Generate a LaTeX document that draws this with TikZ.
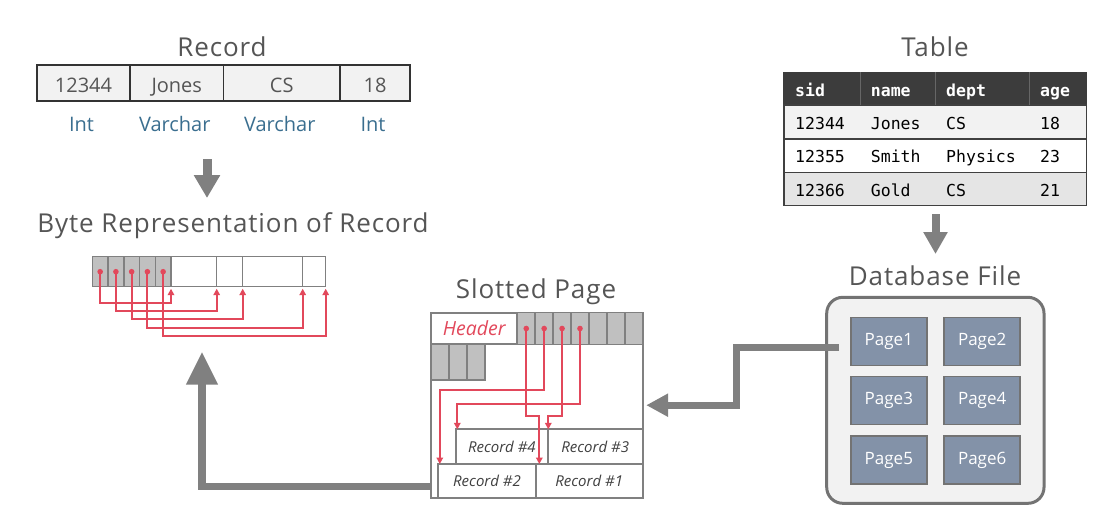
\documentclass[tikz,border=0pt]{standalone}
\usepackage{fontspec}
\setmainfont{Open Sans}
\newfontfamily\titlefont{Open Sans}[LetterSpace=3.5]
\newfontfamily\tabfont{DejaVu Sans Mono}
\usetikzlibrary{arrows.meta}

\definecolor{titlegray}{RGB}{85,85,85}
\definecolor{arrowgray}{RGB}{128,128,128}
\definecolor{slotgray}{RGB}{192,192,192}
\definecolor{ptrred}{RGB}{226,72,91}
\definecolor{typeblue}{RGB}{58,110,143}
\definecolor{pageblue}{RGB}{131,146,168}
\definecolor{lightfill}{RGB}{242,242,242}
\definecolor{headdark}{RGB}{60,60,60}

\begin{document}
\begin{tikzpicture}
        [x=1pt,y=-1pt,
         title/.style={text=titlegray,font=\titlefont\fontsize{26}{30}\selectfont},
         reccell/.style={draw=black!80,fill=lightfill,line width=1.2pt,minimum height=36pt,
                         inner sep=0pt,outer sep=0pt,text=titlegray,text height=22pt,text depth=2.8pt,
                         font=\fontsize{20}{24}\selectfont},
         typelabel/.style={text=typeblue,font=\fontsize{20}{24}\selectfont},
         bytecell/.style={draw=arrowgray,line width=1.5pt,minimum height=30pt,inner sep=0pt,outer sep=0pt},
         ptr/.style={draw=ptrred,line width=1.9pt,-{Triangle[length=6.5pt,width=6.5pt]}},
         bigarrow/.style={draw=arrowgray,line width=8pt,-{Triangle[length=23pt,width=25pt]}},
         spbox/.style={draw=arrowgray,line width=1.8pt,fill=white,inner sep=0pt,outer sep=0pt},
         slot/.style={draw=arrowgray,line width=1.5pt,fill=slotgray,inner sep=0pt,outer sep=0pt},
         recbox/.style={spbox,text=black!75,font=\itshape\fontsize{15}{18}\selectfont},
         dbbox/.style={draw=black!55,line width=3pt,fill=lightfill,rounded corners=16pt,
                       minimum width=217.3pt,minimum height=206pt},
         page/.style={draw=black!55,line width=1.5pt,fill=pageblue,text=white,minimum width=76pt,
                      minimum height=48pt,font=\fontsize{17}{20}\selectfont},
         tabrow/.style={draw=black!75,line width=1.2pt,minimum width=302.7pt,inner sep=0pt,outer sep=0pt},
         tabtext/.style={anchor=west,inner sep=0pt,text height=1.5ex,text depth=.25ex,
                         font=\tabfont\fontsize{16.5}{19}\selectfont}]
        \useasboundingbox (0,0) rectangle (1107,520);

        % record
        \node[title] (rectitle) at (222,47) {Record};
        \foreach \n/\x/\w/\t/\ty in {id/83.5/93/12344/Int, nm/176.75/93.5/Jones/Varchar,
                                    dp/281.75/116.5/CS/Varchar, ag/375/70/18/Int} {
            \node[reccell,minimum width=\w pt] (rec\n) at (\x,83) {\t};
            \node[typelabel] (type\n) at (\x-2,124) {\ty};
        }
        \coordinate (recdown) at (207,159);
        \draw[bigarrow,line width=9pt] (recdown) -- ++(0,39);

        % byte representation
        \node[title] (bytetitle) at (233,226) {Byte Representation of Record};
        \foreach \i in {0,...,4}
            \node[bytecell,fill=slotgray,minimum width=15.74pt] (b\i) at ({100.17+15.74*\i},271.7) {};
        \foreach \i/\x/\w in {0/193.85/45.7, 1/229.7/26, 2/272.7/60, 3/314.2/23}
            \node[bytecell,minimum width=\w pt] (w\i) at (\x,271.7) {};
        \foreach \i/\t/\d in {0/w0.south west/31, 1/w1.south west/39.3, 2/w2.south west/47.6,
                              3/w3.south west/56, 4/w3.south east/64.3} {
            \fill[ptrred] (b\i.center) circle (2.8pt);
            \draw[ptr] (b\i.center) -- ++(0,\d) -| ([yshift=-2pt]\t);
        }

        % slotted page
        \node[title] (sptitle) at (536,292) {Slotted Page};
        \node[spbox,minimum width=211.7pt,minimum height=185pt] (sp) at (536.85,405.2) {};
        \node[spbox,minimum width=86.3pt,minimum height=31.6pt,text=ptrred,
              font=\itshape\fontsize{19.5}{22}\selectfont] (hdr) at (474.15,328.5) {Header};
        \foreach \i in {0,...,6}
            \node[slot,minimum width=17.91pt,minimum height=31.6pt] (s\i) at ({526.25+17.91*\i},328.5) {};
        \foreach \i in {0,1,2}
            \node[slot,minimum width=18pt,minimum height=35.7pt] (t\i) at ({440+18*\i},362.15) {};
        \node[recbox,minimum width=97.4pt,minimum height=33.7pt] (r2) at (487,480.85) {Record \#2};
        \node[recbox,minimum width=107pt,minimum height=33.7pt] (r1) at (589.2,480.85) {Record \#1};
        \node[recbox,minimum width=91.7pt,minimum height=34.7pt] (r4) at (501.85,446.65) {Record \#4};
        \node[recbox,minimum width=95pt,minimum height=34.7pt] (r3) at (595.2,446.65) {Record \#3};
        \foreach \i/\d/\s/\t in {0/87.5/3.6/r1.north west, 1/61.5/1.5/r2.north west,
                                 2/87.5/0.6/r3.north west, 3/75.5/1.3/r4.north west} {
            \fill[ptrred] (s\i.center) circle (2.8pt);
            \draw[ptr] (s\i.center) -- ++(0,\d) -| ([xshift=\s pt]\t);
        }
        \coordinate (spout) at (431.7,486.3);
        \coordinate (bytein) at (202,351.7);
        \draw[bigarrow,line width=7.5pt,-{Triangle[length=33pt,width=30pt]}] (spout) -| (bytein);

        % table
        \node[title] (tabtitle) at (935,47) {Table};
        \node[tabrow,fill=headdark,draw=headdark,minimum height=32.7pt] (thead) at (935.35,88.65) {};
        \node[tabrow,fill=lightfill,minimum height=34pt] (trow1) at (935.35,122) {};
        \node[tabrow,fill=white,minimum height=33.3pt] (trow2) at (935.35,155.65) {};
        \node[tabrow,fill=black!10,minimum height=33.4pt] (trow3) at (935.35,189) {};
        \foreach \s in {76,151.3,245.3}
            \draw[black!60,line width=0.8pt] ([xshift=\s pt]thead.north west) -- ([xshift=\s pt]thead.south west);
        \foreach \x/\c [count=\k] in {795/sid, 870.7/name, 946/dept, 1040/age}
            \node[tabtext,text=white,font=\tabfont\bfseries\fontsize{16.5}{19}\selectfont] (hd\k) at (\x,93.5) {\c};
        \foreach \y/\a/\b/\c/\d [count=\k] in {126/12344/Jones/CS/18, 159.5/12355/Smith/Physics/23,
                                               193/12366/Gold/CS/21} {
            \node[tabtext] (c\k a) at (795,\y) {\a};
            \node[tabtext] (c\k b) at (870.7,\y) {\b};
            \node[tabtext] (c\k c) at (946,\y) {\c};
            \node[tabtext] (c\k d) at (1040,\y) {\d};
        }
        \coordinate (tabdown) at (935.5,214);
        \draw[bigarrow,-{Triangle[length=22pt,width=23pt]}] (tabdown) -- ++(0,40);

        % database file
        \node[title] (dbtitle) at (935,276) {Database File};
        \node[dbbox] (db) at (935.35,400.3) {};
        \foreach \n/\x/\y in {1/888.85/341.35, 2/982.15/341.35, 3/888.85/400.5,
                              4/982.15/400.5, 5/888.85/460.15, 6/982.15/460.15}
            \node[page] (pg\n) at (\x,\y) {Page\n};
        \coordinate (dbout) at (839,347.7);
        \draw[bigarrow,line width=7pt,-{Triangle[length=22pt,width=22pt]}]
            (dbout) -- ++(-102.3,0) |- ([xshift=3.5pt]sp.east);
    \end{tikzpicture}
\end{document}
